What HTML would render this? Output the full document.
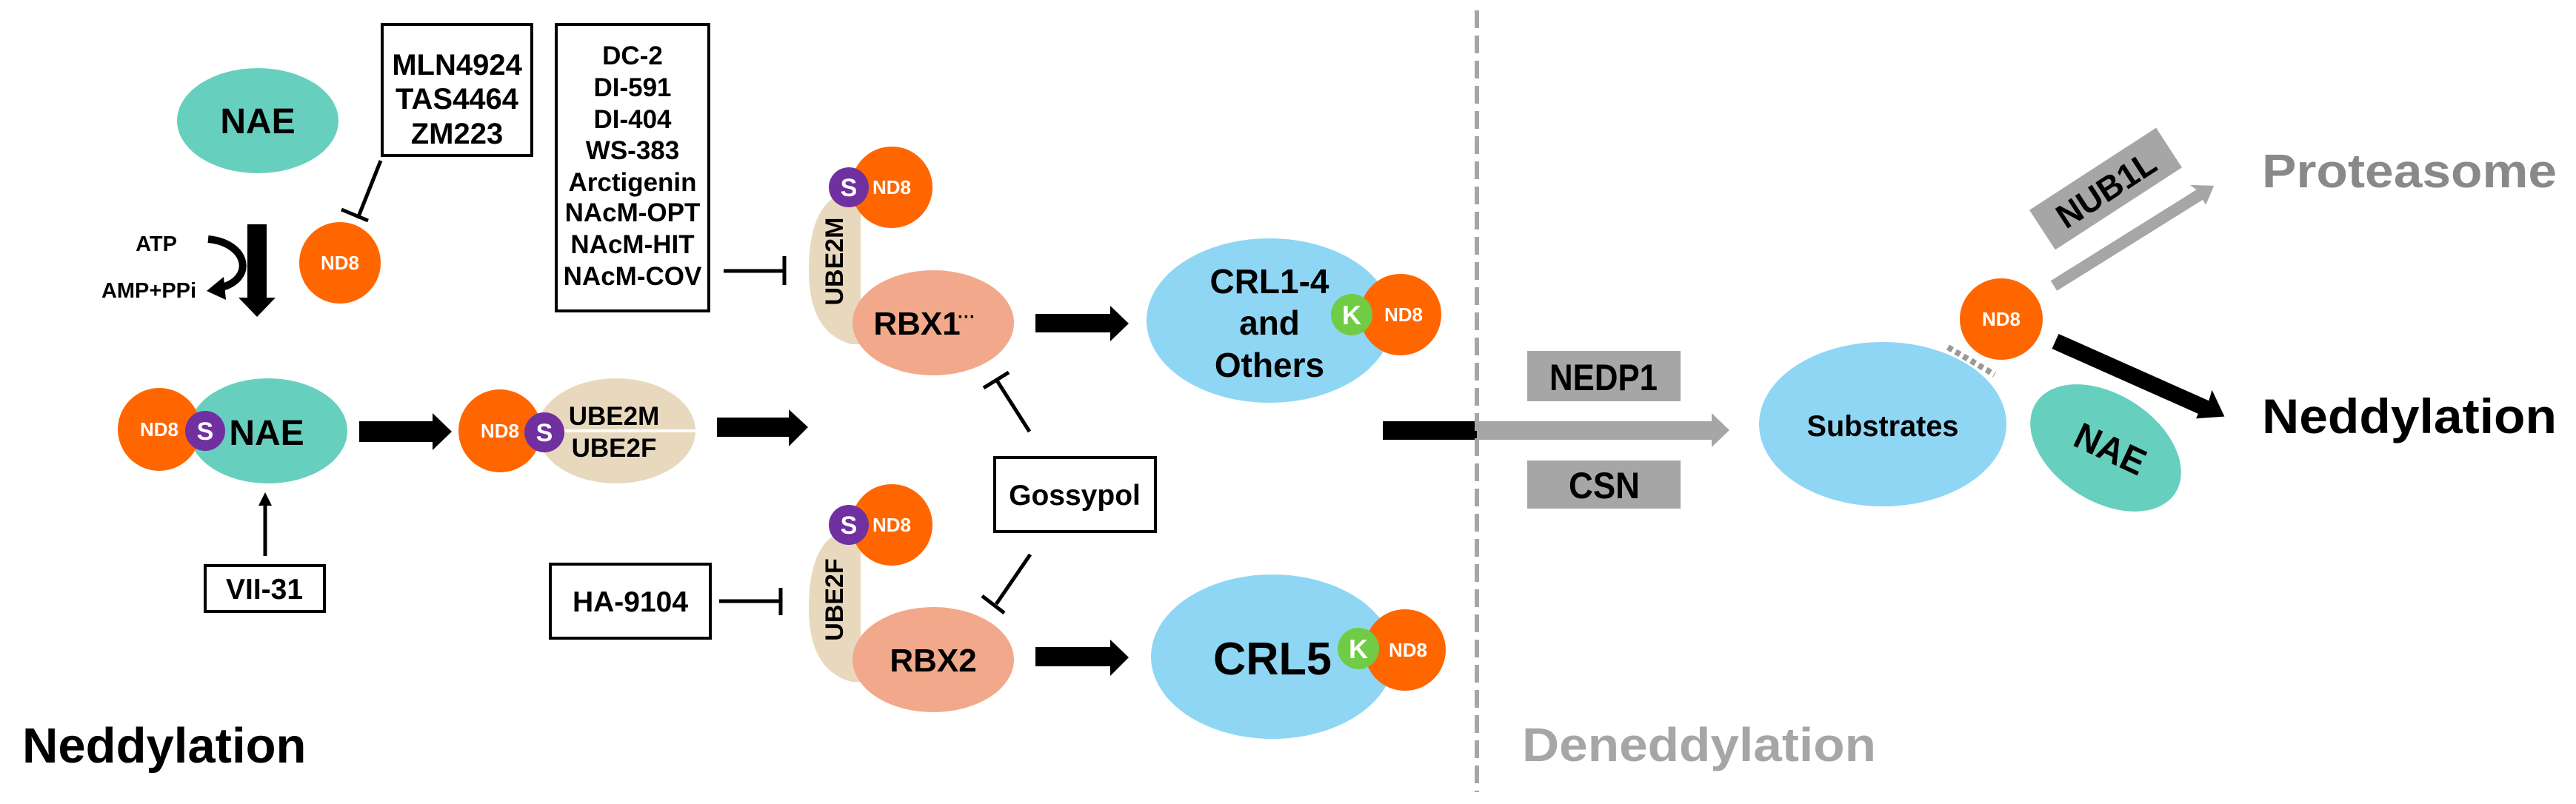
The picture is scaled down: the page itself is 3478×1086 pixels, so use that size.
<!DOCTYPE html>
<html><head><meta charset="utf-8"><style>html,body{margin:0;padding:0;background:#fff}svg{display:block}text{font-family:"Liberation Sans",Arial,sans-serif;font-weight:bold}</style></head>
<body>
<svg width="3478" height="1086" viewBox="0 0 3478 1086" xmlns="http://www.w3.org/2000/svg">
<!-- Top NAE -->
<ellipse cx="348" cy="163" rx="109" ry="71" fill="#67CFBE"/>
<text x="348" y="180" font-size="48" text-anchor="middle">NAE</text>
<!-- MLN box -->
<rect x="516" y="33" width="202" height="177" fill="#fff" stroke="#000" stroke-width="4"/>
<text x="617" y="101" font-size="40" text-anchor="middle">MLN4924</text>
<text x="617" y="147" font-size="40" text-anchor="middle">TAS4464</text>
<text x="617" y="194" font-size="40" text-anchor="middle">ZM223</text>
<line x1="514" y1="217" x2="483" y2="295" stroke="#000" stroke-width="5"/>
<line x1="461" y1="283" x2="497" y2="298" stroke="#000" stroke-width="5"/>
<!-- ND8 top -->
<circle cx="459" cy="355" r="55" fill="#FF6600"/>
<text x="459" y="364" font-size="26" fill="#fff" text-anchor="middle">ND8</text>
<!-- ATP -->
<text x="211" y="339" font-size="29" text-anchor="middle">ATP</text>
<text x="201" y="402" font-size="29" text-anchor="middle">AMP+PPi</text>
<path d="M281,323 C335,328 345,378 296,389" stroke="#000" stroke-width="10" fill="none"/>
<polygon points="302,374 279,393 305,405" fill="#000"/>
<polygon points="334,303 360,303 360,402 372,402 347,428 322,402 334,402" fill="#000"/>
<!-- DC-2 box -->
<rect x="751" y="33" width="206" height="387" fill="#fff" stroke="#000" stroke-width="4"/>
<g font-size="35" text-anchor="middle">
<text x="854" y="87">DC-2</text>
<text x="854" y="130">DI-591</text>
<text x="854" y="173">DI-404</text>
<text x="854" y="215">WS-383</text>
<text x="854" y="258">Arctigenin</text>
<text x="854" y="299">NAcM-OPT</text>
<text x="854" y="342">NAcM-HIT</text>
<text x="854" y="385">NAcM-COV</text>
</g>
<line x1="977" y1="366" x2="1059" y2="366" stroke="#000" stroke-width="5"/>
<line x1="1059" y1="346" x2="1059" y2="385" stroke="#000" stroke-width="5"/>
<!-- Row2 ND8-S-NAE -->
<ellipse cx="362" cy="582" rx="107" ry="71" fill="#67CFBE"/>
<circle cx="215" cy="580" r="56" fill="#FF6600"/>
<text x="215" y="589" font-size="26" fill="#fff" text-anchor="middle">ND8</text>
<circle cx="277" cy="582" r="27" fill="#7030A0"/>
<text x="277" y="594" font-size="34" fill="#fff" text-anchor="middle">S</text>
<text x="360" y="601" font-size="48" text-anchor="middle">NAE</text>
<polygon points="485,569 584,569 584,558 610,583 584,608 584,597 485,597" fill="#000"/>
<!-- ND8-S-UBE2M/F -->
<ellipse cx="832" cy="582" rx="107" ry="71" fill="#E8D9BE"/>
<line x1="762" y1="582" x2="940" y2="582" stroke="#fff" stroke-width="4"/>
<circle cx="675" cy="582" r="56" fill="#FF6600"/>
<text x="675" y="591" font-size="26" fill="#fff" text-anchor="middle">ND8</text>
<circle cx="735" cy="584" r="27" fill="#7030A0"/>
<text x="735" y="596" font-size="34" fill="#fff" text-anchor="middle">S</text>
<text x="829" y="574" font-size="35" text-anchor="middle">UBE2M</text>
<text x="829" y="617" font-size="35" text-anchor="middle">UBE2F</text>
<polygon points="968,564 1065,564 1065,553 1091,577 1065,603 1065,590 968,590" fill="#000"/>
<!-- VII-31 -->
<line x1="358" y1="751" x2="358" y2="680" stroke="#000" stroke-width="5"/>
<polygon points="349,683 358,665 367,683" fill="#000"/>
<rect x="277" y="764" width="161" height="62" fill="#fff" stroke="#000" stroke-width="4"/>
<text x="357" y="809" font-size="39" text-anchor="middle">VII-31</text>
<!-- HA-9104 -->
<rect x="743" y="762" width="216" height="100" fill="#fff" stroke="#000" stroke-width="4"/>
<text x="851" y="826" font-size="39" text-anchor="middle">HA-9104</text>
<line x1="971" y1="812" x2="1054" y2="812" stroke="#000" stroke-width="5"/>
<line x1="1054" y1="794" x2="1054" y2="831" stroke="#000" stroke-width="5"/>
<text x="30" y="1030" font-size="67">Neddylation</text>
<!-- UBE2M complex -->
<path d="M1162,262 L1162,465 L1150,465 Q1092,450 1092,365 Q1092,280 1135,262 Z" fill="#E8D9BE"/>
<circle cx="1204" cy="253" r="55" fill="#FF6600"/>
<text x="1204" y="262" font-size="26" fill="#fff" text-anchor="middle">ND8</text>
<circle cx="1146" cy="253" r="27" fill="#7030A0"/>
<text x="1146" y="265" font-size="34" fill="#fff" text-anchor="middle">S</text>
<text transform="translate(1138,353) rotate(-90)" font-size="34" text-anchor="middle">UBE2M</text>
<ellipse cx="1260" cy="436" rx="109" ry="71" fill="#F2A88A"/>
<text x="1238" y="452" font-size="44" text-anchor="middle">RBX1</text>
<text x="1305" y="436" font-size="24" text-anchor="middle">···</text>
<polygon points="1398,424 1499,424 1499,413 1524,437 1499,461 1499,449 1398,449" fill="#000"/>
<!-- CRL1-4 -->
<ellipse cx="1714" cy="433" rx="166" ry="111" fill="#8ED6F4"/>
<text x="1714" y="396" font-size="46" text-anchor="middle">CRL1-4</text>
<text x="1714" y="452" font-size="46" text-anchor="middle">and</text>
<text x="1714" y="509" font-size="46" text-anchor="middle">Others</text>
<circle cx="1891" cy="425" r="55" fill="#FF6600"/>
<text x="1895" y="434" font-size="26" fill="#fff" text-anchor="middle">ND8</text>
<circle cx="1825" cy="425" r="28" fill="#70CC44"/>
<text x="1825" y="438" font-size="36" fill="#fff" text-anchor="middle">K</text>
<!-- Gossypol -->
<line x1="1390" y1="583" x2="1346" y2="514" stroke="#000" stroke-width="5"/>
<line x1="1328" y1="524" x2="1362" y2="503" stroke="#000" stroke-width="5"/>
<rect x="1343" y="618" width="217" height="100" fill="#fff" stroke="#000" stroke-width="4"/>
<text x="1451" y="682" font-size="39" text-anchor="middle">Gossypol</text>
<line x1="1391" y1="749" x2="1345" y2="816" stroke="#000" stroke-width="5"/>
<line x1="1326" y1="805" x2="1356" y2="828" stroke="#000" stroke-width="5"/>
<!-- UBE2F complex -->
<path d="M1162,718 L1162,921 L1150,921 Q1092,906 1092,821 Q1092,736 1135,718 Z" fill="#E8D9BE"/>
<circle cx="1204" cy="709" r="55" fill="#FF6600"/>
<text x="1204" y="718" font-size="26" fill="#fff" text-anchor="middle">ND8</text>
<circle cx="1146" cy="709" r="27" fill="#7030A0"/>
<text x="1146" y="721" font-size="34" fill="#fff" text-anchor="middle">S</text>
<text transform="translate(1138,810) rotate(-90)" font-size="34" text-anchor="middle">UBE2F</text>
<ellipse cx="1260" cy="891" rx="109" ry="71" fill="#F2A88A"/>
<text x="1260" y="907" font-size="44" text-anchor="middle">RBX2</text>
<polygon points="1398,874 1499,874 1499,864 1524,888 1499,913 1499,900 1398,900" fill="#000"/>
<!-- CRL5 -->
<ellipse cx="1718" cy="887" rx="164" ry="111" fill="#8ED6F4"/>
<text x="1718" y="911" font-size="62" text-anchor="middle" textLength="160" lengthAdjust="spacingAndGlyphs">CRL5</text>
<circle cx="1897" cy="878" r="55" fill="#FF6600"/>
<text x="1901" y="887" font-size="26" fill="#fff" text-anchor="middle">ND8</text>
<circle cx="1834" cy="876" r="28" fill="#70CC44"/>
<text x="1834" y="889" font-size="36" fill="#fff" text-anchor="middle">K</text>
<!-- divider -->
<rect x="1867" y="569" width="127" height="25" fill="#000"/>
<line x1="1994" y1="14" x2="1994" y2="1070" stroke="#A6A6A6" stroke-width="6" stroke-dasharray="24,10"/>
<polygon points="1994,569 2311,569 2311,558 2335,581 2311,604 2311,594 1994,594" fill="#A6A6A6"/>
<rect x="2062" y="474" width="207" height="68" fill="#A6A6A6"/>
<text x="2165" y="527" font-size="50" text-anchor="middle" textLength="146" lengthAdjust="spacingAndGlyphs">NEDP1</text>
<rect x="2062" y="622" width="207" height="65" fill="#A6A6A6"/>
<text x="2166" y="673" font-size="50" text-anchor="middle" textLength="96" lengthAdjust="spacingAndGlyphs">CSN</text>
<!-- Substrates -->
<ellipse cx="2542" cy="573" rx="167" ry="111" fill="#8ED6F4"/>
<text x="2542" y="589" font-size="40" text-anchor="middle" textLength="205" lengthAdjust="spacingAndGlyphs">Substrates</text>
<line x1="2630" y1="469" x2="2693" y2="506" stroke="#999" stroke-width="8" stroke-dasharray="7,5"/>
<ellipse cx="2702" cy="431" rx="56" ry="55" fill="#FF6600"/>
<text x="2702" y="440" font-size="26" fill="#fff" text-anchor="middle">ND8</text>
<ellipse cx="2843" cy="605" rx="112" ry="72" fill="#67CFBE" transform="rotate(33 2843 605)"/>
<text transform="translate(2842,622) rotate(25)" font-size="50" text-anchor="middle" textLength="100" lengthAdjust="spacingAndGlyphs">NAE</text>
<!-- NUB1L -->
<g transform="translate(2843,255) rotate(-33)">
<rect x="-102" y="-32" width="204" height="64" fill="#A6A6A6"/>
<text x="0" y="17" font-size="46" text-anchor="middle" textLength="150" lengthAdjust="spacingAndGlyphs">NUB1L</text>
</g>
<g transform="translate(2773,386) rotate(-32)">
<polygon points="0,-8 232,-8 228,-18 255,0 232,16 232,8 0,8" fill="#A6A6A6"/>
</g>
<g transform="translate(2775,461) rotate(24)">
<polygon points="0,-11 222,-11 220,-26 250,0 216,18 216,11 0,11" fill="#000"/>
</g>
<text x="3054" y="253" font-size="64" fill="#898989" textLength="398" lengthAdjust="spacingAndGlyphs">Proteasome</text>
<text x="3054" y="585" font-size="66" textLength="398" lengthAdjust="spacingAndGlyphs">Neddylation</text>
<text x="2055" y="1028" font-size="64" fill="#A6A6A6" textLength="478" lengthAdjust="spacingAndGlyphs">Deneddylation</text>
</svg>
</body></html>
